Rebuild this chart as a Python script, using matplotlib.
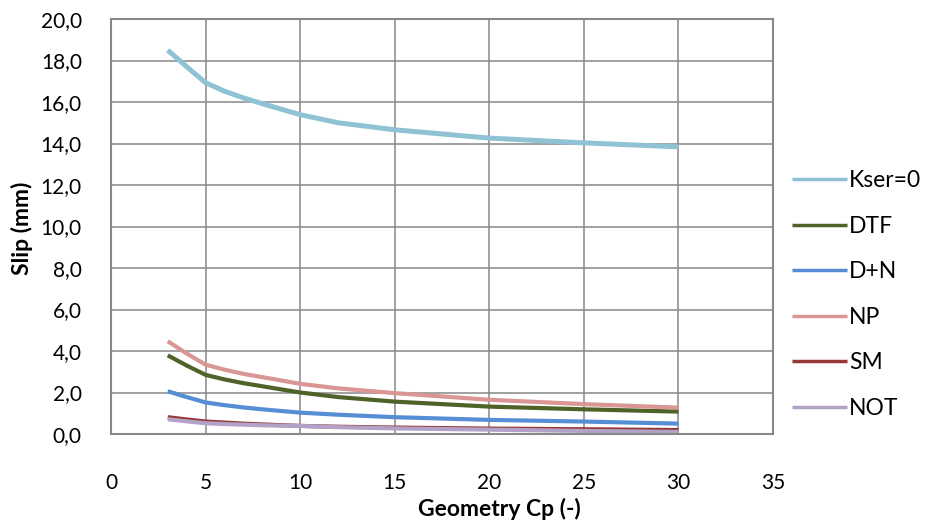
import matplotlib
matplotlib.use("Agg")
import matplotlib.pyplot as plt
from matplotlib.ticker import FuncFormatter

plt.rcParams['font.family'] = ['Lato', 'DejaVu Sans']

cp = [3, 4, 5, 6, 7, 8, 10, 12, 15, 20, 25, 30]
series_names = ["Kser=0", "DTF", "D+N", "NP", "SM", "NOT"]
kser0 = [18.50, 17.70, 16.93, 16.52, 16.20, 15.92, 15.39, 15.00, 14.66, 14.26, 14.03, 13.84]
dtf   = [3.79, 3.30, 2.85, 2.63, 2.45, 2.30, 2.00, 1.78, 1.56, 1.32, 1.19, 1.08]
dn    = [2.06, 1.78, 1.52, 1.39, 1.28, 1.19, 1.03, 0.93, 0.81, 0.68, 0.60, 0.50]
np_   = [4.47, 3.88, 3.34, 3.10, 2.90, 2.74, 2.42, 2.20, 1.97, 1.65, 1.44, 1.27]
sm    = [0.81, 0.70, 0.60, 0.55, 0.50, 0.46, 0.39, 0.35, 0.31, 0.26, 0.23, 0.19]
not_  = [0.71, 0.61, 0.52, 0.48, 0.45, 0.42, 0.39, 0.33, 0.27, 0.21, 0.15, 0.10]
xticks = [0, 5, 10, 15, 20, 25, 30, 35]
yticks = [0, 2, 4, 6, 8, 10, 12, 14, 16, 18, 20]

colors = ["#8EC2D4", "#4F6228", "#558ED5", "#D99694", "#953735", "#B3A2C7"]
widths = [3.6, 3.0, 3.0, 3.0, 3.0, 3.0]
data = [kser0, dtf, dn, np_, sm, not_]

fig = plt.figure(figsize=(9.30, 5.24), dpi=100)
ax = fig.add_axes([111/930, 1-434/524, (773-111)/930, (434-19)/524])

for name, vals, c, w in zip(series_names, data, colors, widths):
    ax.plot(cp, vals, color=c, lw=w, label=name, solid_capstyle='butt',
            solid_joinstyle='round')

ax.set_xlim(0, 35)
ax.set_ylim(0, 20)
ax.set_xticks(xticks)
ax.set_yticks(yticks)
ax.yaxis.set_major_formatter(FuncFormatter(lambda v, p: f"{v:.1f}".replace('.', ',')))
ax.grid(True, color="#888888", lw=1.1)
ax.set_axisbelow(True)
for s in ax.spines.values():
    s.set_color("#888888")
    s.set_linewidth(1.5)
ax.tick_params(axis='both', length=0, labelsize=15)
ax.tick_params(axis='x', pad=28)
ax.tick_params(axis='y', pad=21)

fig.text(22/930, 1-228/524, "Slip (mm)", rotation=90, ha='center', va='center',
         fontsize=16.5, fontweight='bold')
fig.text(499/930, 1-509/524, "Geometry Cp (-)", ha='center', va='center',
         fontsize=16.5, fontweight='bold')

leg = ax.legend(loc='upper left', bbox_to_anchor=(792/930, 1-170/524),
                bbox_transform=fig.transFigure, frameon=False, fontsize=16.5,
                handlelength=2.4, handletextpad=0.1, labelspacing=1.07,
                borderpad=0, borderaxespad=0)
for l in leg.get_lines():
    l.set_linewidth(2.5)

fig.savefig("out.png", dpi=100)
